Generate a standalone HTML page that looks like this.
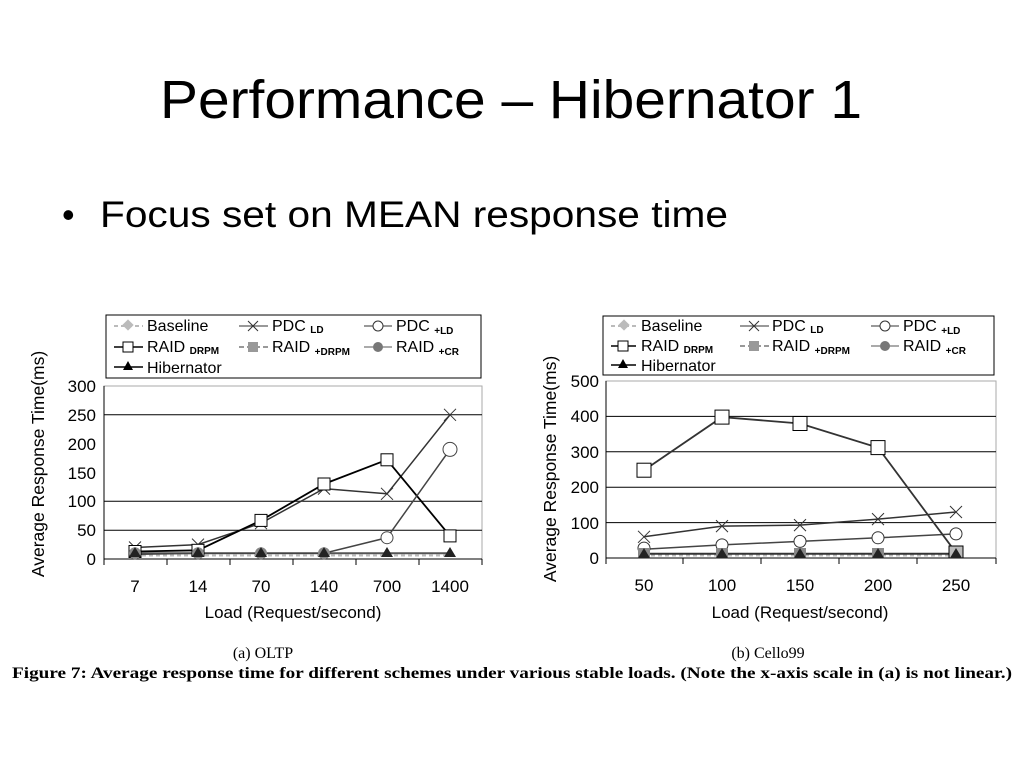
<!DOCTYPE html>
<html><head><meta charset="utf-8"><style>
body{margin:0;background:#fff;}
svg{display:block}
</style></head><body>
<svg width="1024" height="768" viewBox="0 0 1024 768" xmlns="http://www.w3.org/2000/svg" font-family="Liberation Sans, sans-serif">
<text x="160" y="118" font-size="54" fill="#000" textLength="702" lengthAdjust="spacingAndGlyphs">Performance – Hibernator 1</text>
<text x="62" y="227" font-size="36" fill="#000">•</text>
<text x="100" y="227" font-size="37" fill="#000" textLength="628" lengthAdjust="spacingAndGlyphs">Focus set on MEAN response time</text>

<!-- LEFT CHART -->
<g>
<rect x="106" y="315" width="375" height="63" fill="none" stroke="#000" stroke-width="1"/>
<g font-size="16" fill="#000">
<line x1="114" y1="326" x2="143" y2="326" stroke="#bbb" stroke-width="2" stroke-dasharray="4,3"/><rect x="124" y="321" width="8" height="8" fill="#bbb" transform="rotate(45 128 325)"/><text x="147" y="331">Baseline</text>
<line x1="239" y1="326" x2="268" y2="326" stroke="#333"/><path d="M248 321l10 10M258 321l-10 10" stroke="#333"/><text x="272" y="331">PDC <tspan font-size="10" font-weight="bold" dy="2">LD</tspan></text>
<line x1="364" y1="326" x2="392" y2="326" stroke="#333"/><circle cx="378" cy="326" r="5" fill="#fff" stroke="#333"/><text x="396" y="331">PDC <tspan font-size="10" font-weight="bold" dy="3">+LD</tspan></text>
<line x1="114" y1="347" x2="143" y2="347" stroke="#000" stroke-width="1.5"/><rect x="123" y="342" width="10" height="10" fill="#fff" stroke="#000"/><text x="147" y="352">RAID <tspan font-size="10" font-weight="bold" dy="2">DRPM</tspan></text>
<line x1="239" y1="347" x2="268" y2="347" stroke="#999" stroke-width="2" stroke-dasharray="5,3"/><rect x="248" y="342" width="10" height="10" fill="#999"/><text x="272" y="352">RAID <tspan font-size="10" font-weight="bold" dy="3">+DRPM</tspan></text>
<line x1="364" y1="347" x2="392" y2="347" stroke="#555"/><circle cx="378" cy="347" r="5" fill="#777"/><text x="396" y="352">RAID <tspan font-size="10" font-weight="bold" dy="3">+CR</tspan></text>
<line x1="114" y1="367" x2="143" y2="367" stroke="#000" stroke-width="1.5"/><path d="M128 361l5 9h-10z" fill="#000"/><text x="147" y="373">Hibernator</text>
</g>
<rect x="104" y="386" width="378" height="173" fill="none" stroke="#aaa"/>
<g stroke="#000" stroke-width="1">
<line x1="104" y1="414.8" x2="482" y2="414.8"/>
<line x1="104" y1="501.3" x2="482" y2="501.3"/>
<line x1="104" y1="530.2" x2="482" y2="530.2"/>
<line x1="104" y1="559" x2="482" y2="559"/>
<line x1="104" y1="386" x2="104" y2="565"/>
<path d="M167 559v6M230 559v6M293 559v6M356 559v6M419 559v6M482 559v6"/>
</g>
<g font-size="17" text-anchor="end" fill="#000">
<text x="96" y="392">300</text><text x="96" y="421">250</text><text x="96" y="450">200</text><text x="96" y="479">150</text><text x="96" y="507">100</text><text x="96" y="536">50</text><text x="96" y="565">0</text>
</g>
<g font-size="17" text-anchor="middle" fill="#000">
<text x="135" y="592">7</text><text x="198" y="592">14</text><text x="261" y="592">70</text><text x="324" y="592">140</text><text x="387" y="592">700</text><text x="450" y="592">1400</text>
<text x="293" y="618">Load (Request/second)</text>
</g>
<text transform="translate(44 464) rotate(-90)" font-size="17.5" text-anchor="middle">Average Response Time(ms)</text>
<polyline points="135,555.5 198,555.5 261,555.5 324,555.5 387,555.5 450,555.5" fill="none" stroke="#bbb" stroke-width="2" stroke-dasharray="4,3"/>
<polyline points="135,553.2 198,553.2 261,553.2 324,553.2 387,553.2 450,553.2" fill="none" stroke="#555" stroke-width="2"/>
<polyline points="135,547.5 198,544.6 261,523.2 324,488.6 387,493.8 450,414.8" fill="none" stroke="#333" stroke-width="1.5"/>
<polyline points="135,551.5 198,550.3 261,520.4 324,484 387,459.8 450,535.9" fill="none" stroke="#000" stroke-width="1.8"/>
<polyline points="135,554.4 198,553.2 261,553.2 324,553.2 387,537.7 450,449.4" fill="none" stroke="#444" stroke-width="1.5"/>
<g stroke="#333" fill="none"><path d="M129 541.5l12 12M141 541.5l-12 12M192 538.6l12 12M204 538.6l-12 12M255 517.2l12 12M267 517.2l-12 12M318 482.6l12 12M330 482.6l-12 12M381 487.8l12 12M393 487.8l-12 12M444 408.8l12 12M456 408.8l-12 12"/></g>
<g fill="#fff" stroke="#000"><rect x="129" y="545.5" width="12" height="12"/><rect x="192" y="544.3" width="12" height="12"/><rect x="255" y="514.4" width="12" height="12"/><rect x="318" y="478" width="12" height="12"/><rect x="381" y="453.8" width="12" height="12"/><rect x="444" y="529.9" width="12" height="12"/></g>
<g fill="#fff" stroke="#444"><circle cx="387" cy="537.7" r="6"/><circle cx="450" cy="449.4" r="7"/></g>
<g fill="#888"><circle cx="135" cy="553.2" r="6"/><circle cx="198" cy="553.2" r="6"/><circle cx="261" cy="553.2" r="6"/><circle cx="324" cy="553.2" r="6"/></g>
<g fill="#222"><path d="M135 547l6 10h-12zM198 547l6 10h-12zM261 547l6 10h-12zM324 547l6 10h-12zM387 547l6 10h-12zM450 547l6 10h-12z"/></g>
</g>

<!-- RIGHT CHART -->
<g>
<rect x="603" y="316" width="391" height="59" fill="none" stroke="#000"/>
<g font-size="16" fill="#000">
<line x1="611" y1="326" x2="636" y2="326" stroke="#bbb" stroke-width="2" stroke-dasharray="4,3"/><rect x="620" y="321" width="8" height="8" fill="#bbb" transform="rotate(45 624 325)"/><text x="641" y="331">Baseline</text>
<line x1="740" y1="326" x2="769" y2="326" stroke="#333"/><path d="M749 321l10 10M759 321l-10 10" stroke="#333"/><text x="772" y="331">PDC <tspan font-size="10" font-weight="bold" dy="2">LD</tspan></text>
<line x1="871" y1="326" x2="899" y2="326" stroke="#333"/><circle cx="885" cy="326" r="5" fill="#fff" stroke="#333"/><text x="903" y="331">PDC <tspan font-size="10" font-weight="bold" dy="3">+LD</tspan></text>
<line x1="611" y1="346" x2="636" y2="346" stroke="#000" stroke-width="1.5"/><rect x="618" y="341" width="10" height="10" fill="#fff" stroke="#000"/><text x="641" y="351">RAID <tspan font-size="10" font-weight="bold" dy="2">DRPM</tspan></text>
<line x1="740" y1="346" x2="769" y2="346" stroke="#999" stroke-width="2" stroke-dasharray="5,3"/><rect x="749" y="341" width="10" height="10" fill="#999"/><text x="772" y="351">RAID <tspan font-size="10" font-weight="bold" dy="3">+DRPM</tspan></text>
<line x1="871" y1="346" x2="899" y2="346" stroke="#555"/><circle cx="885" cy="346" r="5" fill="#777"/><text x="903" y="351">RAID <tspan font-size="10" font-weight="bold" dy="3">+CR</tspan></text>
<line x1="611" y1="365" x2="636" y2="365" stroke="#000" stroke-width="1.5"/><path d="M623 359l5 9h-10z" fill="#000"/><text x="641" y="371">Hibernator</text>
</g>
<rect x="606" y="381" width="390" height="177" fill="none" stroke="#aaa"/>
<g stroke="#000">
<line x1="606" y1="416.4" x2="996" y2="416.4"/><line x1="606" y1="451.8" x2="996" y2="451.8"/><line x1="606" y1="487.2" x2="996" y2="487.2"/><line x1="606" y1="522.6" x2="996" y2="522.6"/><line x1="606" y1="558" x2="996" y2="558"/>
<line x1="606" y1="381" x2="606" y2="564"/>
<path d="M683 558v6M761 558v6M839 558v6M917 558v6M996 558v6"/>
</g>
<g font-size="17" text-anchor="end" fill="#000">
<text x="599" y="387">500</text><text x="599" y="422">400</text><text x="599" y="458">300</text><text x="599" y="493">200</text><text x="599" y="529">100</text><text x="599" y="564">0</text>
</g>
<g font-size="17" text-anchor="middle" fill="#000">
<text x="644" y="591">50</text><text x="722" y="591">100</text><text x="800" y="591">150</text><text x="878" y="591">200</text><text x="956" y="591">250</text>
<text x="800" y="618">Load (Request/second)</text>
</g>
<text transform="translate(556 469) rotate(-90)" font-size="17.5" text-anchor="middle">Average Response Time(ms)</text>
<polyline points="644,555.5 722,555.5 800,555.5 878,555.5 956,555.5" fill="none" stroke="#bbb" stroke-width="2" stroke-dasharray="4,3"/>
<polyline points="644,553.8 722,553.8 800,553.8 878,553.8 956,553.8" fill="none" stroke="#333" stroke-width="2"/>
<polyline points="644,549.2 722,544.9 800,541.4 878,537.8 956,533.9" fill="none" stroke="#444" stroke-width="1.5"/>
<polyline points="644,536.8 722,526.1 800,525.1 878,519.1 956,512" fill="none" stroke="#333" stroke-width="1.5"/>
<polyline points="644,470.2 722,417.1 800,423.5 878,447.6 956,552.7" fill="none" stroke="#333" stroke-width="1.8"/>
<g stroke="#333"><path d="M638 530.8l12 12M650 530.8l-12 12M716 520.1l12 12M728 520.1l-12 12M794 519.1l12 12M806 519.1l-12 12M872 513.1l12 12M884 513.1l-12 12M950 506l12 12M962 506l-12 12"/></g>
<g fill="#fff" stroke="#333"><circle cx="644" cy="548.1" r="6"/><circle cx="722" cy="544.9" r="6"/><circle cx="800" cy="541.4" r="6"/><circle cx="878" cy="537.8" r="6"/><circle cx="956" cy="533.9" r="6"/></g>
<g fill="#fff" stroke="#000"><rect x="637" y="463.2" width="14" height="14"/><rect x="715" y="410.1" width="14" height="14"/><rect x="793" y="416.5" width="14" height="14"/><rect x="871" y="440.6" width="14" height="14"/><rect x="949" y="546" width="14" height="12" fill="#bbb"/></g>
<g fill="#888"><rect x="638" y="548" width="12" height="11"/><rect x="716" y="548" width="12" height="11"/><rect x="794" y="548" width="12" height="11"/><rect x="872" y="548" width="12" height="11"/></g>
<g fill="#222"><path d="M644 548l6 10h-12zM722 548l6 10h-12zM800 548l6 10h-12zM878 548l6 10h-12zM956 548l6 10h-12z"/></g>
</g>

<g font-family="Liberation Serif, serif" fill="#000">
<text x="263" y="658" font-size="16" text-anchor="middle">(a) OLTP</text>
<text x="768" y="658" font-size="16" text-anchor="middle">(b) Cello99</text>
<text x="512" y="678" font-size="15.5" font-weight="bold" text-anchor="middle" textLength="1000" lengthAdjust="spacingAndGlyphs">Figure 7: Average response time for different schemes under various stable loads. (Note the x-axis scale in (a) is not linear.)</text>
</g>
</svg>
</body></html>
